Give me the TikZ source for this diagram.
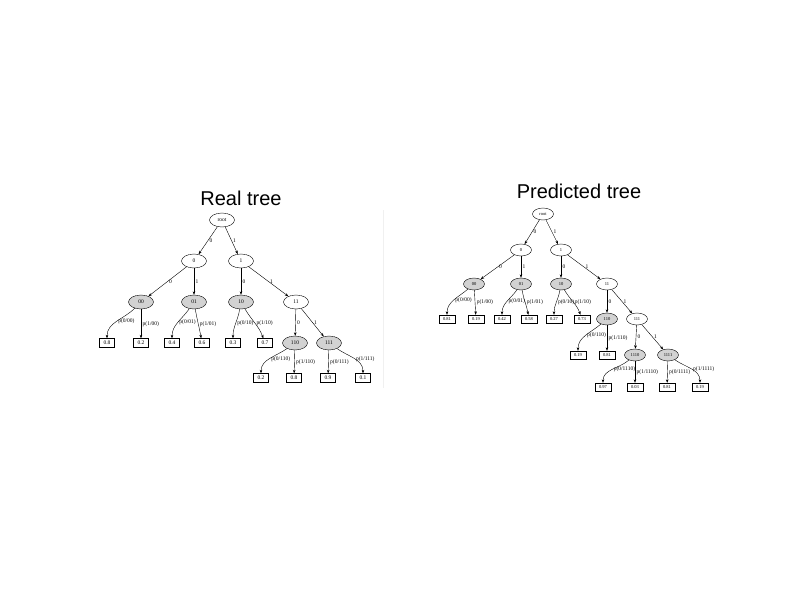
\documentclass[tikz,border=0pt]{standalone}
\usepackage{fontspec}
\setmainfont{Liberation Serif}
\newfontfamily\titlefont{Liberation Sans}
\usetikzlibrary{arrows.meta,shapes.geometric}

\begin{document}
\begin{tikzpicture}[x=1pt,y=-1pt,>={Stealth[length=3.5pt,width=2.6pt]},
  inode/.style={ellipse,draw,line width=0.4pt,inner sep=0pt,minimum width=25pt,minimum height=14pt,font=\fontsize{5.5}{6}\selectfont},
  gnode/.style={inode,fill=gray!35},
  leaf/.style={rectangle,draw,line width=0.4pt,inner sep=0pt,minimum width=15pt,minimum height=9pt,font=\fontsize{5.5}{6}\selectfont},
  small/.style={minimum width=21pt,minimum height=12pt,font=\fontsize{4.5}{5}\selectfont},
  sleaf/.style={minimum width=16pt,minimum height=8pt,font=\fontsize{4.5}{5}\selectfont},
  arr/.style={->,line width=0.4pt},
  elab/.style={anchor=west,inner sep=1.5pt,font=\fontsize{5.5}{6}\selectfont}]
\useasboundingbox (0,0) rectangle (800,600);

\node[anchor=base,font=\titlefont\fontsize{20}{24}\selectfont] (rtitle) at (241,205) {Real tree};
\node[anchor=base,font=\titlefont\fontsize{20}{24}\selectfont] (ptitle) at (579,198) {Predicted tree};

\draw[gray!12] (383,210) -- (383,388);

% real tree
\node[inode] (rroot) at (222,220) {root};
\node[inode] (r0) at (194,261) {0};
\node[inode] (r1) at (241,261) {1};
\node[gnode] (r00) at (141,302) {00};
\node[gnode] (r01) at (194,302) {01};
\node[gnode] (r10) at (241,302) {10};
\node[inode] (r11) at (296,302) {11};
\node[gnode] (r110) at (295,343) {110};
\node[gnode] (r111) at (329,343) {111};

\node[leaf] (r00a) at (107,343) {0.8};
\node[leaf] (r00b) at (141,343) {0.2};
\node[leaf] (r01a) at (172,343) {0.4};
\node[leaf] (r01b) at (202,343) {0.6};
\node[leaf] (r10a) at (233,343) {0.3};
\node[leaf] (r10b) at (265,343) {0.7};
\node[leaf] (r110a) at (261,378) {0.2};
\node[leaf] (r110b) at (294,378) {0.8};
\node[leaf] (r111a) at (328,378) {0.9};
\node[leaf] (r111b) at (363,378) {0.1};

\draw[arr] (rroot) -- node[elab] {0} (r0);
\draw[arr] (rroot) -- node[elab] {1} (r1);
\draw[arr] (r0) -- node[elab] {0} (r00);
\draw[arr] (r0) -- node[elab] {1} (r01);
\draw[arr] (r1) -- node[elab] {0} (r10);
\draw[arr] (r1) -- node[elab] {1} (r11);
\draw[arr] (r11) -- node[elab] {0} (r110);
\draw[arr] (r11) -- node[elab] {1} (r111);

\draw[arr] (r00) to[out=-135,in=90] node[elab] {p(0/00)} (r00a);
\draw[arr] (r00) -- node[elab] {p(1/00)} (r00b);
\draw[arr] (r01) to[out=-125,in=90] node[elab] {p(0/01)} (r01a);
\draw[arr] (r01) to[out=-80,in=100] node[elab] {p(1/01)} (r01b);
\draw[arr] (r10) to[out=-100,in=90] node[elab] {p(0/10)} (r10a);
\draw[arr] (r10) to[out=-60,in=110] node[elab] {p(1/10)} (r10b);
\draw[arr] (r110) to[out=-145,in=90] node[elab] {p(0/110)} (r110a);
\draw[arr] (r110) -- node[elab] {p(1/110)} (r110b);
\draw[arr] (r111) -- node[elab] {p(0/111)} (r111a);
\draw[arr] (r111) to[out=-35,in=90] node[elab] {p(1/111)} (r111b);

% predicted tree
\node[inode,small] (proot) at (543,214) {root};
\node[inode,small] (p0) at (521,250) {0};
\node[inode,small] (p1) at (561,250) {1};
\node[gnode,small] (p00) at (474,284) {00};
\node[gnode,small] (p01) at (521,284) {01};
\node[gnode,small] (p10) at (561,284) {10};
\node[inode,small] (p11) at (607,284) {11};
\node[gnode,small] (p110) at (607,319) {110};
\node[inode,small] (p111) at (637,319) {111};
\node[gnode,small] (p1110) at (635,355) {1110};
\node[gnode,small] (p1111) at (668,355) {1111};

\node[leaf,sleaf] (p00a) at (447,319) {0.81};
\node[leaf,sleaf] (p00b) at (476,319) {0.19};
\node[leaf,sleaf] (p01a) at (502,319) {0.42};
\node[leaf,sleaf] (p01b) at (529,319) {0.58};
\node[leaf,sleaf] (p10a) at (554,319) {0.27};
\node[leaf,sleaf] (p10b) at (582,319) {0.73};
\node[leaf,sleaf] (p110a) at (578,355) {0.19};
\node[leaf,sleaf] (p110b) at (607,355) {0.81};
\node[leaf,sleaf] (p1110a) at (603,387) {0.97};
\node[leaf,sleaf] (p1110b) at (635,387) {0.03};
\node[leaf,sleaf] (p1111a) at (667,387) {0.81};
\node[leaf,sleaf] (p1111b) at (700,387) {0.19};

\draw[arr] (proot) -- node[elab] {0} (p0);
\draw[arr] (proot) -- node[elab] {1} (p1);
\draw[arr] (p0) -- node[elab] {0} (p00);
\draw[arr] (p0) -- node[elab] {1} (p01);
\draw[arr] (p1) -- node[elab] {0} (p10);
\draw[arr] (p1) -- node[elab] {1} (p11);
\draw[arr] (p11) -- node[elab] {0} (p110);
\draw[arr] (p11) -- node[elab] {1} (p111);
\draw[arr] (p111) -- node[elab] {0} (p1110);
\draw[arr] (p111) -- node[elab] {1} (p1111);

\draw[arr] (p00) to[out=-140,in=90] node[elab] {p(0/00)} (p00a);
\draw[arr] (p00) -- node[elab] {p(1/00)} (p00b);
\draw[arr] (p01) to[out=-125,in=90] node[elab] {p(0/01)} (p01a);
\draw[arr] (p01) to[out=-80,in=100] node[elab] {p(1/01)} (p01b);
\draw[arr] (p10) to[out=-100,in=90] node[elab] {p(0/10)} (p10a);
\draw[arr] (p10) to[out=-60,in=110] node[elab] {p(1/10)} (p10b);
\draw[arr] (p110) to[out=-140,in=90] node[elab] {p(0/110)} (p110a);
\draw[arr] (p110) -- node[elab] {p(1/110)} (p110b);
\draw[arr] (p1110) to[out=-140,in=90] node[elab] {p(0/1110)} (p1110a);
\draw[arr] (p1110) -- node[elab] {p(1/1110)} (p1110b);
\draw[arr] (p1111) -- node[elab] {p(0/1111)} (p1111a);
\draw[arr] (p1111) to[out=-35,in=90] node[elab] {p(1/1111)} (p1111b);
\end{tikzpicture}
\end{document}
